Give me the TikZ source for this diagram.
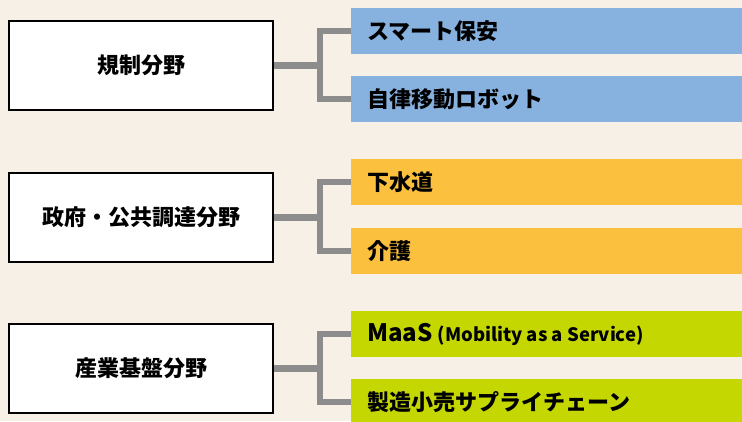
\documentclass[tikz,border=0pt]{standalone}
\usepackage{fontspec}
\setmainfont{Noto Sans CJK JP}
\definecolor{bgc}{HTML}{F7F0E7}
\definecolor{blu}{HTML}{87B2E0}
\definecolor{org}{HTML}{FBC03E}
\definecolor{lim}{HTML}{C5D700}
\definecolor{gry}{HTML}{8C8C8C}
\tikzset{
  catbox/.style={draw=black, line width=2pt, fill=white, minimum width=264pt, minimum height=89pt, inner sep=0pt, anchor=north west, font=\fontsize{22}{26}\selectfont\bfseries},
  itembox/.style={minimum width=391pt, minimum height=46pt, inner sep=0pt, anchor=north west, draw=none},
  itemtext/.style={anchor=west, inner sep=0pt, font=\fontsize{22}{26}\selectfont\bfseries},
  conn/.style={draw=gry, line width=6.5pt}
}
\begin{document}
\begin{tikzpicture}[x=1pt,y=-1pt]
\fill[bgc] (0,0) rectangle (742,421);
\useasboundingbox (0,0) rectangle (742,421);
\begin{scope}
\clip (0,0) rectangle (742,421);
% group 1
\coordinate (j1) at (320,0);
\node[itembox, fill=blu] (b1) at (351,8) {};
\node[itembox, fill=blu] (b2) at (351,76) {};
\draw[conn] (b1.west) -| (j1 |- 0,65) |- (b2.west);
\node[catbox] (c1) at (8,20) {規制分野};
\draw[conn] (c1.east) -- (c1.east -| j1);
\node[itemtext] (t1) at (367,31) {スマート保安};
\node[itemtext] (t2) at (367,99) {自律移動ロボット};
% group 2
\coordinate (j2) at (320,0);
\node[itembox, fill=org] (o1) at (351,159) {};
\node[itembox, fill=org] (o2) at (351,228) {};
\draw[conn] (o1.west) -| (j2 |- 0,216) |- (o2.west);
\node[catbox] (c2) at (8,172) {政府・公共調達分野};
\draw[conn] (c2.east) -- (c2.east -| j2);
\node[itemtext] (t3) at (367,182) {下水道};
\node[itemtext] (t4) at (367,251) {介護};
% group 3
\coordinate (j3) at (320,0);
\node[itembox, fill=lim] (l1) at (351,311) {};
\node[itembox, fill=lim] (l2) at (351,379) {};
\draw[conn] (l1.west) -| (j3 |- 0,367) |- (l2.west);
\node[catbox] (c3) at (8,323) {産業基盤分野};
\draw[conn] (c3.east) -- (c3.east -| j3);
\node[itemtext] (t5) at (367,334) {{\fontsize{24}{28}\selectfont MaaS} {\fontsize{18.5}{22}\selectfont (Mobility as a Service)}};
\node[itemtext] (t6) at (367,402) {製造小売サプライチェーン};
\end{scope}
\end{tikzpicture}
\end{document}
